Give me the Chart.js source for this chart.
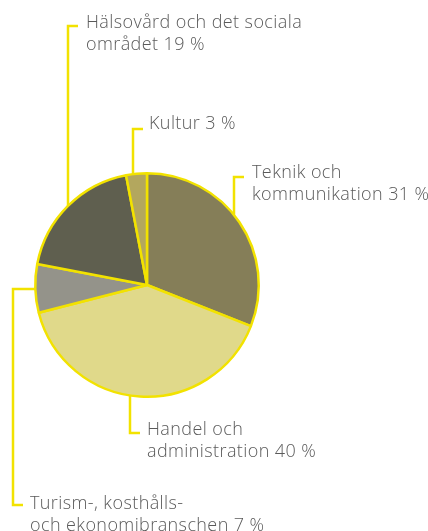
<!DOCTYPE html>
<html>
<head>
<meta charset="utf-8">
<script src="https://cdn.jsdelivr.net/npm/chart.js@4.4.1/dist/chart.umd.min.js"></script>
<style>
  html, body { margin: 0; padding: 0; background: #fff; }
  #wrap { width: 428px; height: 531px; position: relative; }
</style>
</head>
<body>
<div id="wrap"><canvas id="myChart"></canvas></div>
<script>
// sectors, clockwise from 12 o'clock
let sectors = ['Teknik och kommunikation', 'Handel och administration', 'Turism-, kosthålls- och ekonomibranschen', 'Hälsovård och det sociala området', 'Kultur'];
let shares = [31, 40, 7, 19, 3];
let labelLines = [
    ['Teknik och', 'kommunikation 31 %'],
    ['Handel och', 'administration 40 %'],
    ['Turism-, kosthålls-', 'och ekonomibranschen 7 %'],
    ['Hälsovård och det sociala', 'området 19 %'],
    ['Kultur 3 %'],
];
let sliceColors = ['#857e58', '#e0d98a', '#94938a', '#5f5f4f', '#b3a75e'];

const YELLOW = '#f2e200';

// where each callout sits: vertical leader at lineX, elbow at elbowY, text at textX
let callouts = [
    { lineX: 234, elbowY: 177, textX: 252, baseY: 178, side: 'top' },
    { lineX: 130, elbowY: 433, textX: 147, baseY: 435, side: 'bottom' },
    { lineX: 13, elbowY: 505, textX: 30, baseY: 509, side: 'left', fromY: 289 },
    { lineX: 68, elbowY: 26, textX: 86, baseY: 28, side: 'top' },
    { lineX: 133, elbowY: 129, textX: 149, baseY: 129, side: 'top' },
];

const calloutPlugin = {
    id: 'callouts',
    afterDatasetsDraw(chart) {
        let ctx = chart.ctx;
        let arc = chart.getDatasetMeta(0).data[0];
        let cx = arc.x, cy = arc.y, r = arc.outerRadius;
        ctx.save();
        ctx.strokeStyle = YELLOW;
        ctx.lineWidth = 2.5;
        ctx.lineCap = 'butt';
        callouts.forEach((c, i) => {
            ctx.beginPath();
            if (c.side === 'left') {
                let dy = c.fromY - cy;
                let edgeX = cx - Math.sqrt(r * r - dy * dy);
                ctx.moveTo(edgeX, c.fromY);
                ctx.lineTo(c.lineX, c.fromY);
                ctx.lineTo(c.lineX, c.elbowY);
                ctx.lineTo(c.lineX + 10, c.elbowY);
            } else {
                let dx = c.lineX - cx;
                let h = Math.sqrt(Math.max(r * r - dx * dx, 0));
                let edgeY = c.side === 'top' ? cy - h : cy + h;
                ctx.moveTo(c.lineX, edgeY);
                ctx.lineTo(c.lineX, c.elbowY);
                ctx.lineTo(c.lineX + 10, c.elbowY);
            }
            ctx.stroke();

            ctx.fillStyle = '#5a5a5a';
            ctx.font = '300 18px "Open Sans"';
            ctx.letterSpacing = '0.4px';
            ctx.textBaseline = 'alphabetic';
            labelLines[i].forEach((t, k) => {
                ctx.fillText(t, c.textX, c.baseY + k * 22);
            });
        });
        ctx.restore();
    }
};

new Chart(document.getElementById('myChart'), {
    type: 'pie',
    data: {
        labels: sectors,
        datasets: [{
            data: shares,
            backgroundColor: sliceColors,
            borderColor: YELLOW,
            borderWidth: 2.5,
        }]
    },
    options: {
        responsive: true,
        maintainAspectRatio: false,
        animation: false,
        layout: {
            padding: { left: 34, right: 168, top: 172, bottom: 133 }
        },
        plugins: {
            legend: { display: false },
            tooltip: { enabled: false },
        }
    },
    plugins: [calloutPlugin]
});
</script>
</body>
</html>
